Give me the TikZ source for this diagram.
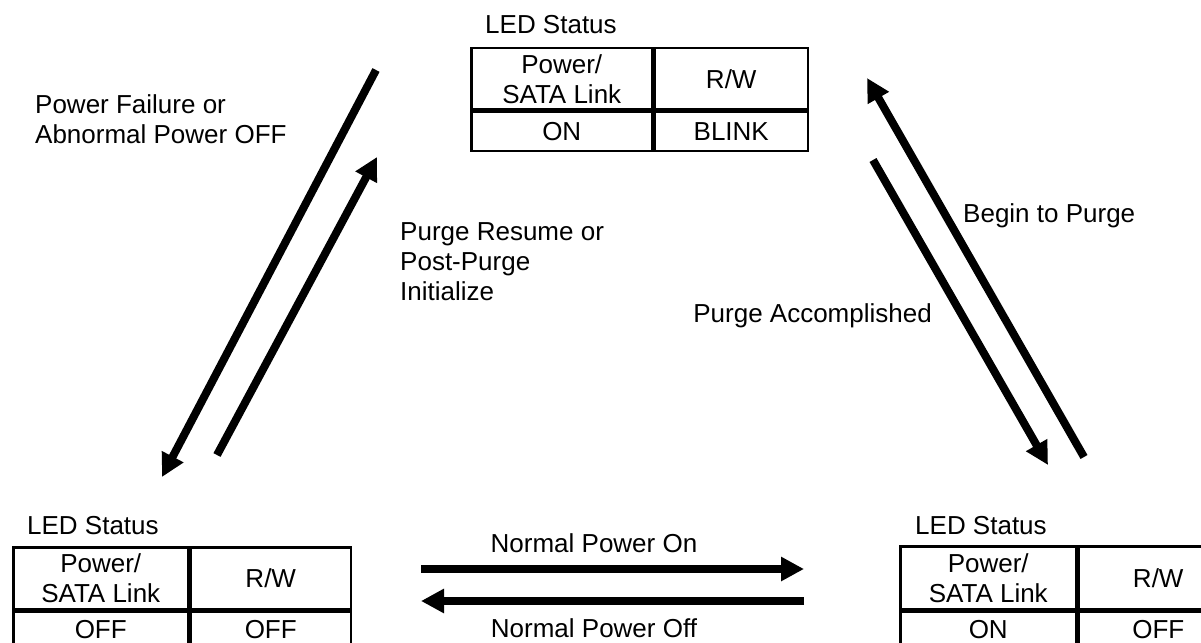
\documentclass[tikz,border=0pt]{standalone}
\usepackage{fontspec}
\setmainfont{Liberation Sans}
\usetikzlibrary{arrows.meta}

\begin{document}
\begin{tikzpicture}[x=1pt,y=-1pt,
  every node/.style={font=\fontsize{26}{30}\selectfont},
  cell/.style={draw,line width=2.5pt,inner sep=0pt,anchor=north west,align=center},
  flow/.style={-{Triangle[length=23pt,width=23pt]},line width=8pt},
  lbl/.style={inner sep=0pt,align=left}]
  \useasboundingbox (0,0) rectangle (1201,642);
  % purging state (top)
  \node[lbl,anchor=base west] (purgelbl) at (485,34) {LED Status};
  \node[cell,minimum width=181pt,minimum height=61pt] (purgepw) at (470,47) {Power/\\SATA Link};
  \node[cell,minimum width=153pt,minimum height=61pt] (purgerw) at (purgepw.north east) {R/W};
  \node[cell,minimum width=181pt,minimum height=39pt] (purgepwv) at (purgepw.south west) {ON};
  \node[cell,minimum width=153pt,minimum height=39pt] (purgerwv) at (purgepw.south east) {BLINK};
  % power off state (bottom left)
  \node[lbl,anchor=base west] (offlbl) at (27,534) {LED Status};
  \node[cell,minimum width=175pt,minimum height=62pt] (offpw) at (12,546) {Power/\\SATA Link};
  \node[cell,minimum width=160pt,minimum height=62pt] (offrw) at (offpw.north east) {R/W};
  \node[cell,minimum width=175pt,minimum height=36pt] (offpwv) at (offpw.south west) {OFF};
  \node[cell,minimum width=160pt,minimum height=36pt] (offrwv) at (offpw.south east) {OFF};
  % power on state (bottom right)
  \node[lbl,anchor=base west] (onlbl) at (915,534) {LED Status};
  \node[cell,minimum width=176pt,minimum height=63pt] (onpw) at (899,545) {Power/\\SATA Link};
  \node[cell,minimum width=159pt,minimum height=63pt] (onrw) at (onpw.north east) {R/W};
  \node[cell,minimum width=176pt,minimum height=36pt] (onpwv) at (onpw.south west) {ON};
  \node[cell,minimum width=159pt,minimum height=36pt] (onrwv) at (onpw.south east) {OFF};

  % transitions
  \coordinate (pfa) at (376,70);   \coordinate (pfb) at (162,477);
  \coordinate (pra) at (217,455);  \coordinate (prb) at (377,157);
  \coordinate (bpa) at (1084,457); \coordinate (bpb) at (867,78);
  \coordinate (paa) at (873,160);  \coordinate (pab) at (1048,465);
  \coordinate (npa) at (421,569);  \coordinate (npb) at (804,569);
  \coordinate (nfa) at (804,601);  \coordinate (nfb) at (421,601);
  \draw[flow] (pfa) -- (pfb);
  \draw[flow] (pra) -- (prb);
  \draw[flow] (bpa) -- (bpb);
  \draw[flow] (paa) -- (pab);
  \draw[flow] (npa) -- (npb);
  \draw[flow] (nfa) -- (nfb);

  \node[lbl,anchor=north west] (pftxt) at (35,94) {Power Failure or\\Abnormal Power OFF};
  \node[lbl,anchor=north west] (prtxt) at (400,222) {Purge Resume or\\Post-Purge\\Initialize};
  \node[lbl,anchor=base west] (bptxt) at (963,222) {Begin to Purge};
  \node[lbl,anchor=base east] (patxt) at (932,322) {Purge Accomplished};
  \node[lbl,anchor=base] (nptxt) at (594,552) {Normal Power On};
  \node[lbl,anchor=base] (nftxt) at (594,637) {Normal Power Off};
\end{tikzpicture}
\end{document}
